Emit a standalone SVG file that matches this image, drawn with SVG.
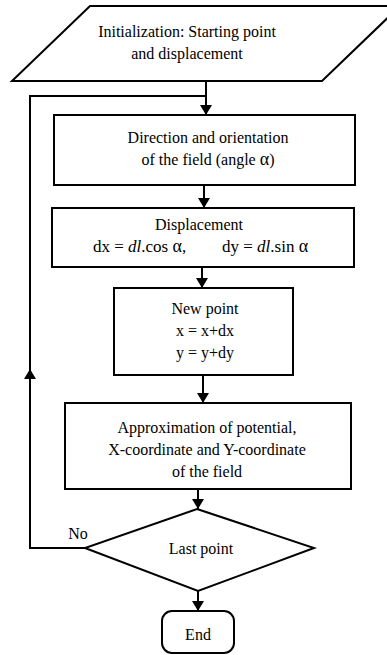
<svg xmlns="http://www.w3.org/2000/svg" width="387" height="655" viewBox="0 0 387 655">
<style>
.s{fill:#fff;stroke:#000;stroke-width:2}
.c{fill:none;stroke:#000;stroke-width:2}
text{font-family:"Liberation Serif","Times New Roman",serif;font-size:16px;fill:#000;text-anchor:middle}
.l{text-anchor:start;font-size:17px}
.i{font-style:italic}
.a{font-size:18px}
</style>
<defs>
<marker id="ah" viewBox="0 0 10 12" refX="10" refY="6" markerWidth="10" markerHeight="12" markerUnits="userSpaceOnUse" orient="auto">
<path d="M0,0 L10,6 L0,12 Z" fill="#000"/>
</marker>
</defs>
<g id="connectors">
<path class="c" d="M206,81 V115" marker-end="url(#ah)"/>
<path class="c" d="M85,548 H30 V96 H206"/>
<path class="c" d="M30,500 V369" marker-end="url(#ah)"/>
<path class="c" d="M204,185 V208" marker-end="url(#ah)"/>
<path class="c" d="M202,267 V288" marker-end="url(#ah)"/>
<path class="c" d="M203,375 V403" marker-end="url(#ah)"/>
<path class="c" d="M198,489 V509" marker-end="url(#ah)"/>
<path class="c" d="M198,591 V611" marker-end="url(#ah)"/>
</g>
<g id="init">
<polygon class="s" points="90,6 400,6 322,81 12,81"/>
<text x="187" y="37">Initialization: Starting point</text>
<text x="187" y="59">and displacement</text>
</g>
<g id="direction">
<rect class="s" x="54" y="115" width="301" height="70"/>
<text x="208" y="143">Direction and orientation</text>
<text x="208" y="165">of the field (angle <tspan class="a">α</tspan>)</text>
</g>
<g id="displacement">
<rect class="s" x="52" y="208" width="302" height="59"/>
<text x="199" y="230">Displacement</text>
<text class="l" x="93" y="252">dx = <tspan class="i">dl</tspan>.cos <tspan class="a">α</tspan>,</text>
<text class="l" x="222" y="252">dy = <tspan class="i">dl</tspan>.sin <tspan class="a">α</tspan></text>
</g>
<g id="newpoint">
<rect class="s" x="114" y="288" width="179" height="87"/>
<text x="205" y="314">New point</text>
<text x="205" y="336">x = x+dx</text>
<text x="205" y="358">y = y+dy</text>
</g>
<g id="approx">
<rect class="s" x="65" y="403" width="286" height="86"/>
<text x="207" y="433">Approximation of potential,</text>
<text x="207" y="455">X-coordinate and Y-coordinate</text>
<text x="207" y="477">of the field</text>
</g>
<g id="lastpoint">
<polygon class="s" points="197,509 314,548 198,591 85,548"/>
<text x="201" y="554">Last point</text>
<text x="78" y="539">No</text>
</g>
<g id="end">
<rect class="s" x="162" y="611" width="72" height="42" rx="10"/>
<text x="198" y="640">End</text>
</g>
</svg>
